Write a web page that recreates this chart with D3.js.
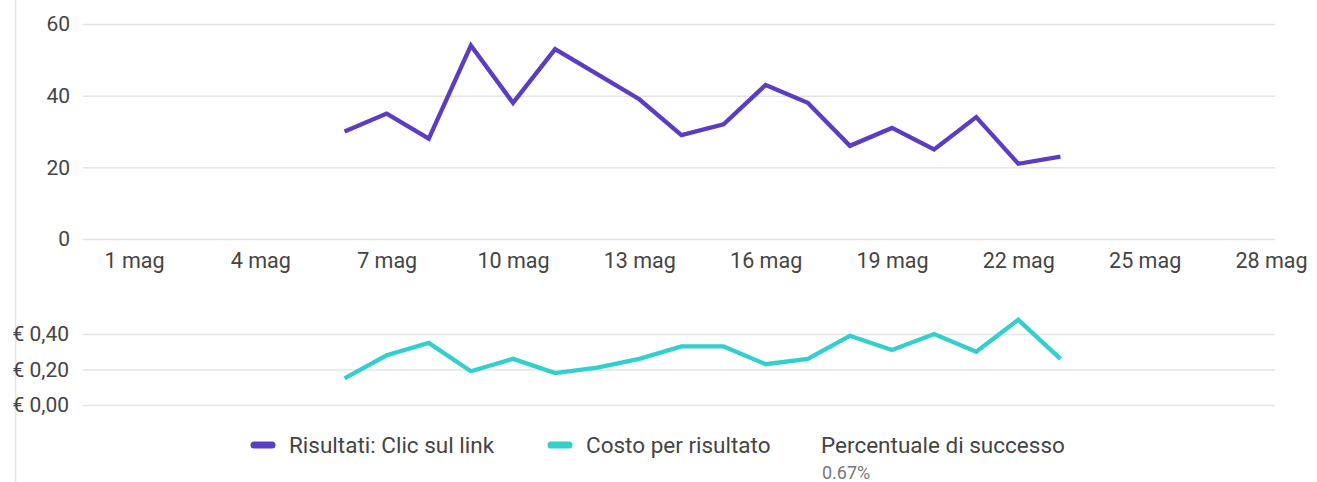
<!DOCTYPE html>
<html>
<head>
<meta charset="utf-8">
<script src="https://cdn.jsdelivr.net/npm/d3@7"></script>
<style>
  body { margin: 0; background: #fff; }
  text { font-family: Roboto, "Noto Sans", sans-serif; }
</style>
</head>
<body>
<div id="chart"></div>
<script>
let w = 1317;
let h = 482;

// days of May with data
let days = [6, 7, 8, 9, 10, 11, 12, 13, 14, 15, 16, 17, 18, 19, 20, 21, 22, 23];
// Risultati: Clic sul link
let clicks = [30, 35, 28, 54, 38, 53, 46, 39, 29, 32, 43, 38, 26, 31, 25, 34, 21, 23];
// Costo per risultato (EUR)
let costs = [0.15, 0.28, 0.35, 0.19, 0.26, 0.18, 0.21, 0.26, 0.33, 0.33, 0.23, 0.26, 0.39, 0.31, 0.40, 0.30, 0.48, 0.26];

let xTicks = [1, 4, 7, 10, 13, 16, 19, 22, 25, 28];
let topTicks = [0, 20, 40, 60];
let bottomTicks = [0, 0.2, 0.4];

let purple = "#5b3cc4";
let cyan = "#33cfcf";
let grid = "#e4e4e4";
let textCol = "#444";

let viz = d3.select("#chart")
  .append("svg")
    .attr("width", w)
    .attr("height", h);

// left frame line
viz.append("line")
  .attr("x1", 15.5).attr("x2", 15.5)
  .attr("y1", 0).attr("y2", h)
  .attr("stroke", "#e8e8e8")
  .attr("stroke-width", 1.5);

let x = d3.scaleLinear().domain([1, 28]).range([134, 1271]);
let yTop = d3.scaleLinear().domain([0, 60]).range([239, 24]);
let yBot = d3.scaleLinear().domain([0, 0.4]).range([405, 334]);

///////////////////////////////////////////////////////////////////
// TOP CHART

let topAxis = viz.append("g")
  .attr("transform", "translate(83,0)")
  .call(d3.axisLeft(yTop).tickValues(topTicks).tickSize(-1192).tickFormat(d3.format("d")));
topAxis.select(".domain").remove();
topAxis.selectAll("line").attr("stroke", grid).attr("stroke-width", 1.5);
topAxis.selectAll("text")
  .attr("x", -13)
  .attr("fill", textCol)
  .style("font-size", "21px");

let xAxis = viz.append("g")
  .attr("transform", "translate(0,239)")
  .call(d3.axisBottom(x).tickValues(xTicks).tickSize(0).tickFormat(function(d){ return d + " mag"; }));
xAxis.select(".domain").remove();
xAxis.selectAll("text")
  .attr("y", 14)
  .attr("fill", textCol)
  .style("font-size", "21.5px");

let clickData = days.map(function(d, i){ return {day: d, v: clicks[i]}; });
viz.append("path")
  .datum(clickData)
  .attr("fill", "none")
  .attr("stroke", purple)
  .attr("stroke-width", 4.3)
  .attr("stroke-linejoin", "miter")
  .attr("d", d3.line().x(function(d){ return x(d.day); }).y(function(d){ return yTop(d.v); }));

///////////////////////////////////////////////////////////////////
// BOTTOM CHART

let botAxis = viz.append("g")
  .attr("transform", "translate(83,0)")
  .call(d3.axisLeft(yBot).tickValues(bottomTicks).tickSize(-1192)
    .tickFormat(function(d){ return "€ " + d.toFixed(2).replace(".", ","); }));
botAxis.select(".domain").remove();
botAxis.selectAll("line").attr("stroke", grid).attr("stroke-width", 1.5);
botAxis.selectAll("text")
  .attr("x", -14)
  .attr("fill", textCol)
  .style("font-size", "21px");

let costData = days.map(function(d, i){ return {day: d, v: costs[i]}; });
viz.append("path")
  .datum(costData)
  .attr("fill", "none")
  .attr("stroke", cyan)
  .attr("stroke-width", 4.3)
  .attr("d", d3.line().x(function(d){ return x(d.day); }).y(function(d){ return yBot(d.v); }));

///////////////////////////////////////////////////////////////////
// LEGEND

let legend = [
  {label: "Risultati: Clic sul link", color: purple, x: 251},
  {label: "Costo per risultato", color: cyan, x: 548}
];

let lg = viz.selectAll(".legend").data(legend)
  .enter()
    .append("g")
    .attr("class", "legend")
    .attr("transform", function(d){ return "translate(" + d.x + ",445)"; });

lg.append("line")
  .attr("x1", 3).attr("x2", 21)
  .attr("y1", 0).attr("y2", 0)
  .attr("stroke", function(d){ return d.color; })
  .attr("stroke-width", 7)
  .attr("stroke-linecap", "round");

lg.append("text")
  .attr("x", 38)
  .attr("y", 8)
  .attr("fill", textCol)
  .style("font-size", "22.5px")
  .text(function(d){ return d.label; });

viz.append("text")
  .attr("x", 821)
  .attr("y", 453)
  .attr("fill", textCol)
  .style("font-size", "22.5px")
  .text("Percentuale di successo");

viz.append("text")
  .attr("x", 822)
  .attr("y", 479)
  .attr("fill", "#777")
  .style("font-size", "18px")
  .text("0.67%");
</script>
</body>
</html>
